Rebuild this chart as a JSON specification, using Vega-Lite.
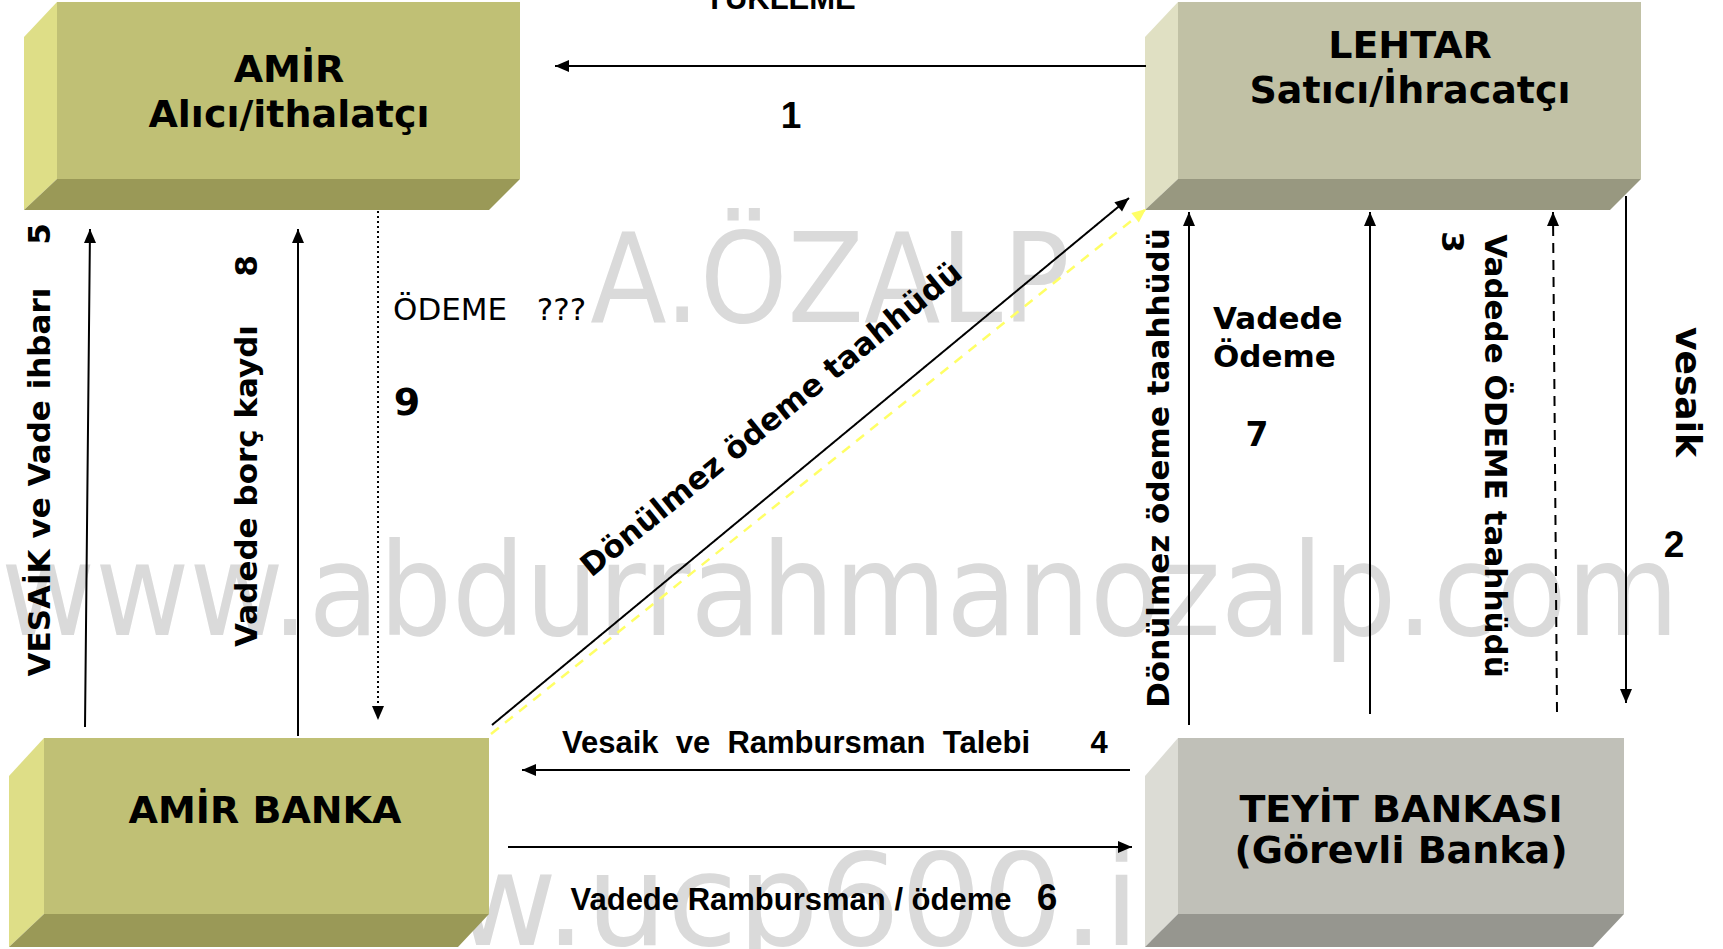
{
  "$schema": "https://vega.github.io/schema/vega-lite/v6.json",
  "width": 1723,
  "height": 949,
  "autosize": {"type": "none"},
  "padding": 0,
  "background": "white",
  "config": {"view": {"stroke": null}},
  "datasets": {
    "wm": [
      {"label": "A.ÖZALP", "x": 830, "y": 322, "g": "a"},
      {"label": "www.abdurrahmanozalp.com", "x": 840, "y": 635, "g": "b"},
      {"label": "www.ucp600.info", "x": 243, "y": 945, "g": "c"}
    ],
    "fronts": [
      {"box": "AMİR", "x": 57, "x2": 520, "y": 2, "y2": 179, "shade": "amirFront"},
      {"box": "LEHTAR", "x": 1178, "x2": 1641, "y": 2, "y2": 179, "shade": "lehtarFront"},
      {"box": "AMİR BANKA", "x": 44, "x2": 489, "y": 738, "y2": 914, "shade": "amirFront"},
      {"box": "TEYİT BANKASI", "x": 1178, "x2": 1624, "y": 738, "y2": 914, "shade": "teyitFront"}
    ],
    "sides": [
      {"face": "amir-l", "x": 24, "y": 37, "y2": 210, "shade": "amirSide"},
      {"face": "amir-l", "x": 57, "y": 2, "y2": 179, "shade": "amirSide"},
      {"face": "lehtar-l", "x": 1145, "y": 37, "y2": 210, "shade": "lehtarSide"},
      {"face": "lehtar-l", "x": 1178, "y": 2, "y2": 179, "shade": "lehtarSide"},
      {"face": "banka-l", "x": 9, "y": 776, "y2": 947, "shade": "amirSide"},
      {"face": "banka-l", "x": 44, "y": 738, "y2": 914, "shade": "amirSide"},
      {"face": "teyit-l", "x": 1145, "y": 776, "y2": 947, "shade": "teyitSide"},
      {"face": "teyit-l", "x": 1178, "y": 738, "y2": 914, "shade": "teyitSide"}
    ],
    "bottoms": [
      {"face": "amir-b", "y": 179, "x": 57, "x2": 520, "shade": "amirBottom"},
      {"face": "amir-b", "y": 210, "x": 24, "x2": 489, "shade": "amirBottom"},
      {"face": "lehtar-b", "y": 179, "x": 1178, "x2": 1641, "shade": "lehtarBottom"},
      {"face": "lehtar-b", "y": 210, "x": 1145, "x2": 1610, "shade": "lehtarBottom"},
      {"face": "banka-b", "y": 914, "x": 44, "x2": 489, "shade": "amirBottom"},
      {"face": "banka-b", "y": 947, "x": 9, "x2": 458, "shade": "amirBottom"},
      {"face": "teyit-b", "y": 914, "x": 1178, "x2": 1624, "shade": "teyitBottom"},
      {"face": "teyit-b", "y": 947, "x": 1145, "x2": 1593, "shade": "teyitBottom"}
    ],
    "arrows": [
      {"step": "1", "x": 1146, "y": 66, "x2": 555, "y2": 66, "line": "solid", "dir": 270},
      {"step": "2", "x": 1626, "y": 196, "x2": 1626, "y2": 703, "line": "solid", "dir": 180},
      {"step": "3", "x": 1557, "y": 712, "x2": 1553, "y2": 212, "line": "dashed", "dir": 0},
      {"step": "3b", "x": 1189, "y": 725, "x2": 1189, "y2": 212, "line": "solid", "dir": 0},
      {"step": "3c", "x": 492, "y": 725, "x2": 1129, "y2": 198, "line": "solid", "dir": 50.4},
      {"step": "4", "x": 1130, "y": 770, "x2": 522, "y2": 770, "line": "solid", "dir": 270},
      {"step": "5", "x": 85, "y": 727, "x2": 90, "y2": 229, "line": "solid", "dir": 0},
      {"step": "6", "x": 508, "y": 847, "x2": 1132, "y2": 847, "line": "solid", "dir": 90},
      {"step": "7", "x": 1370, "y": 714, "x2": 1370, "y2": 212, "line": "solid", "dir": 0},
      {"step": "8", "x": 298, "y": 736, "x2": 298, "y2": 229, "line": "solid", "dir": 0},
      {"step": "9", "x": 378, "y": 211, "x2": 378, "y2": 720, "line": "dotted", "dir": 180}
    ],
    "guide": [
      {"x": 491, "y": 734, "x2": 1146, "y2": 209, "dir": 51.3}
    ],
    "labels": [
      {"kind": "title", "text": "AMİR", "x": 289, "y": 71},
      {"kind": "title", "text": "Alıcı/ithalatçı", "x": 289, "y": 116},
      {"kind": "title", "text": "LEHTAR", "x": 1410, "y": 47},
      {"kind": "title", "text": "Satıcı/İhracatçı", "x": 1410, "y": 92},
      {"kind": "title", "text": "AMİR BANKA", "x": 265, "y": 812},
      {"kind": "title", "text": "TEYİT BANKASI", "x": 1401, "y": 811},
      {"kind": "title", "text": "(Görevli Banka)", "x": 1401, "y": 852},
      {"kind": "up", "text": "VESAİK ve Vade ihbarı", "x": 41, "y": 482},
      {"kind": "up", "text": "5", "x": 41, "y": 234},
      {"kind": "up", "text": "Vadede borç kaydı", "x": 248, "y": 486},
      {"kind": "up", "text": "8", "x": 248, "y": 266},
      {"kind": "up", "text": "Dönülmez ödeme taahhüdü", "x": 1160, "y": 468},
      {"kind": "down", "text": "3", "x": 1451, "y": 242},
      {"kind": "down", "text": "Vadede ÖDEME taahhüdü", "x": 1494, "y": 456},
      {"kind": "downbig", "text": "vesaik", "x": 1687, "y": 392},
      {"kind": "diag", "text": "Dönülmez ödeme taahhüdü", "x": 772, "y": 420},
      {"kind": "bignum", "text": "9", "x": 407, "y": 404},
      {"kind": "bold", "text": "7", "x": 1257, "y": 436},
      {"kind": "boldleft", "text": "Vadede", "x": 1213, "y": 320},
      {"kind": "boldleft", "text": "Ödeme", "x": 1213, "y": 358},
      {"kind": "regular", "text": "ÖDEME\u00a0\u00a0 ???", "x": 393, "y": 311},
      {"kind": "narrow", "text": "YÜKLEME", "x": 780, "y": 0},
      {"kind": "narrow", "text": "Vesaik\u00a0 ve\u00a0 Rambursman\u00a0 Talebi", "x": 796, "y": 744},
      {"kind": "narrow", "text": "4", "x": 1099, "y": 744},
      {"kind": "narrow", "text": "Vadede Rambursman / ödeme", "x": 791, "y": 901},
      {"kind": "arial", "text": "1", "x": 791, "y": 117},
      {"kind": "arial", "text": "2", "x": 1674, "y": 546},
      {"kind": "arial", "text": "6", "x": 1047, "y": 899}
    ]
  },
  "encoding": {
    "x": {"field": "x", "type": "quantitative", "scale": {"domain": [0, 1723], "nice": false, "zero": false}, "axis": null},
    "y": {"field": "y", "type": "quantitative", "scale": {"domain": [0, 949], "nice": false, "zero": false, "reverse": true}, "axis": null}
  },
  "layer": [
    {
      "data": {"name": "wm"},
      "transform": [{"filter": "datum.g === 'a'"}],
      "mark": {"type": "text", "font": "DejaVu Sans Condensed, DejaVu Sans", "fontSize": 124, "color": "#DADADA", "align": "center", "baseline": "alphabetic"},
      "encoding": {"text": {"field": "label"}}
    },
    {
      "data": {"name": "wm"},
      "transform": [{"filter": "datum.g === 'b'"}],
      "mark": {"type": "text", "font": "DejaVu Sans Condensed, DejaVu Sans", "fontSize": 128, "color": "#DADADA", "align": "center", "baseline": "alphabetic"},
      "encoding": {"text": {"field": "label"}}
    },
    {
      "data": {"name": "wm"},
      "transform": [{"filter": "datum.g === 'c'"}],
      "mark": {"type": "text", "font": "DejaVu Sans", "fontSize": 128, "color": "#DADADA", "align": "left", "baseline": "alphabetic"},
      "encoding": {"text": {"field": "label"}}
    },
    {
      "data": {"name": "fronts"},
      "mark": {"type": "rect"},
      "encoding": {
        "x2": {"field": "x2"},
        "y2": {"field": "y2"},
        "fill": {"field": "shade", "type": "nominal", "legend": null,
          "scale": {"domain": ["amirFront", "amirSide", "amirBottom", "lehtarFront", "lehtarSide", "lehtarBottom", "teyitFront", "teyitSide", "teyitBottom"],
                    "range": ["#C0C075", "#DEDE87", "#9A9957", "#C1C1A5", "#E0E0C3", "#989880", "#C0C0B8", "#DCDCD5", "#96968F"]}}
      }
    },
    {
      "data": {"name": "sides"},
      "mark": {"type": "area", "orient": "vertical", "opacity": 1},
      "encoding": {
        "y2": {"field": "y2"},
        "detail": {"field": "face"},
        "fill": {"field": "shade", "type": "nominal", "legend": null,
          "scale": {"domain": ["amirFront", "amirSide", "amirBottom", "lehtarFront", "lehtarSide", "lehtarBottom", "teyitFront", "teyitSide", "teyitBottom"],
                    "range": ["#C0C075", "#DEDE87", "#9A9957", "#C1C1A5", "#E0E0C3", "#989880", "#C0C0B8", "#DCDCD5", "#96968F"]}}
      }
    },
    {
      "data": {"name": "bottoms"},
      "mark": {"type": "area", "orient": "horizontal", "opacity": 1},
      "encoding": {
        "x2": {"field": "x2"},
        "detail": {"field": "face"},
        "fill": {"field": "shade", "type": "nominal", "legend": null,
          "scale": {"domain": ["amirFront", "amirSide", "amirBottom", "lehtarFront", "lehtarSide", "lehtarBottom", "teyitFront", "teyitSide", "teyitBottom"],
                    "range": ["#C0C075", "#DEDE87", "#9A9957", "#C1C1A5", "#E0E0C3", "#989880", "#C0C0B8", "#DCDCD5", "#96968F"]}}
      }
    },
    {
      "data": {"name": "guide"},
      "mark": {"type": "rule", "color": "#FFFF66", "strokeWidth": 2.5, "strokeDash": [10, 8]},
      "encoding": {"x2": {"field": "x2"}, "y2": {"field": "y2"}}
    },
    {
      "data": {"name": "guide"},
      "mark": {"type": "point", "shape": "M0,0L-0.6,1.4L0.6,1.4Z", "filled": true, "color": "#FFFF66", "opacity": 1, "size": 400},
      "encoding": {
        "x": {"field": "x2", "type": "quantitative"},
        "y": {"field": "y2", "type": "quantitative"},
        "angle": {"field": "dir", "type": "quantitative", "scale": {"domain": [0, 360], "range": [0, 360]}, "legend": null}
      }
    },
    {
      "data": {"name": "arrows"},
      "mark": {"type": "rule", "color": "black", "strokeWidth": 2},
      "encoding": {
        "x2": {"field": "x2"},
        "y2": {"field": "y2"},
        "strokeDash": {"field": "line", "type": "nominal", "legend": null,
          "scale": {"domain": ["solid", "dotted", "dashed"], "range": [[1, 0], [2, 3], [10, 7]]}}
      }
    },
    {
      "data": {"name": "arrows"},
      "mark": {"type": "point", "shape": "M0,0L-0.6,1.4L0.6,1.4Z", "filled": true, "color": "black", "opacity": 1, "size": 400},
      "encoding": {
        "x": {"field": "x2", "type": "quantitative"},
        "y": {"field": "y2", "type": "quantitative"},
        "angle": {"field": "dir", "type": "quantitative", "scale": {"domain": [0, 360], "range": [0, 360]}, "legend": null}
      }
    },
    {
      "data": {"name": "labels"},
      "transform": [{"filter": "datum.kind === 'title'"}],
      "mark": {"type": "text", "font": "DejaVu Sans", "fontWeight": "bold", "fontSize": 38, "color": "black", "align": "center", "baseline": "middle"},
      "encoding": {"text": {"field": "text"}}
    },
    {
      "data": {"name": "labels"},
      "transform": [{"filter": "datum.kind === 'up'"}],
      "mark": {"type": "text", "font": "DejaVu Sans", "fontWeight": "bold", "fontSize": 31, "color": "black", "align": "center", "baseline": "middle", "angle": 270},
      "encoding": {"text": {"field": "text"}}
    },
    {
      "data": {"name": "labels"},
      "transform": [{"filter": "datum.kind === 'down'"}],
      "mark": {"type": "text", "font": "DejaVu Sans", "fontWeight": "bold", "fontSize": 31, "color": "black", "align": "center", "baseline": "middle", "angle": 90},
      "encoding": {"text": {"field": "text"}}
    },
    {
      "data": {"name": "labels"},
      "transform": [{"filter": "datum.kind === 'downbig'"}],
      "mark": {"type": "text", "font": "DejaVu Sans", "fontWeight": "bold", "fontSize": 36, "color": "black", "align": "center", "baseline": "middle", "angle": 90},
      "encoding": {"text": {"field": "text"}}
    },
    {
      "data": {"name": "labels"},
      "transform": [{"filter": "datum.kind === 'diag'"}],
      "mark": {"type": "text", "font": "DejaVu Sans", "fontWeight": "bold", "fontSize": 31, "color": "black", "align": "center", "baseline": "middle", "angle": 321},
      "encoding": {"text": {"field": "text"}}
    },
    {
      "data": {"name": "labels"},
      "transform": [{"filter": "datum.kind === 'bold'"}],
      "mark": {"type": "text", "font": "DejaVu Sans", "fontWeight": "bold", "fontSize": 33, "color": "black", "align": "center", "baseline": "middle"},
      "encoding": {"text": {"field": "text"}}
    },
    {
      "data": {"name": "labels"},
      "transform": [{"filter": "datum.kind === 'bignum'"}],
      "mark": {"type": "text", "font": "DejaVu Sans", "fontWeight": "bold", "fontSize": 38, "color": "black", "align": "center", "baseline": "middle"},
      "encoding": {"text": {"field": "text"}}
    },
    {
      "data": {"name": "labels"},
      "transform": [{"filter": "datum.kind === 'boldleft'"}],
      "mark": {"type": "text", "font": "DejaVu Sans", "fontWeight": "bold", "fontSize": 31, "color": "black", "align": "left", "baseline": "middle"},
      "encoding": {"text": {"field": "text"}}
    },
    {
      "data": {"name": "labels"},
      "transform": [{"filter": "datum.kind === 'regular'"}],
      "mark": {"type": "text", "font": "DejaVu Sans", "fontSize": 31, "color": "black", "align": "left", "baseline": "middle"},
      "encoding": {"text": {"field": "text"}}
    },
    {
      "data": {"name": "labels"},
      "transform": [{"filter": "datum.kind === 'narrow'"}],
      "mark": {"type": "text", "font": "Liberation Sans", "fontWeight": "bold", "fontSize": 31, "color": "black", "align": "center", "baseline": "middle"},
      "encoding": {"text": {"field": "text"}}
    },
    {
      "data": {"name": "labels"},
      "transform": [{"filter": "datum.kind === 'arial'"}],
      "mark": {"type": "text", "font": "Liberation Sans", "fontWeight": "bold", "fontSize": 37, "color": "black", "align": "center", "baseline": "middle"},
      "encoding": {"text": {"field": "text"}}
    }
  ]
}
